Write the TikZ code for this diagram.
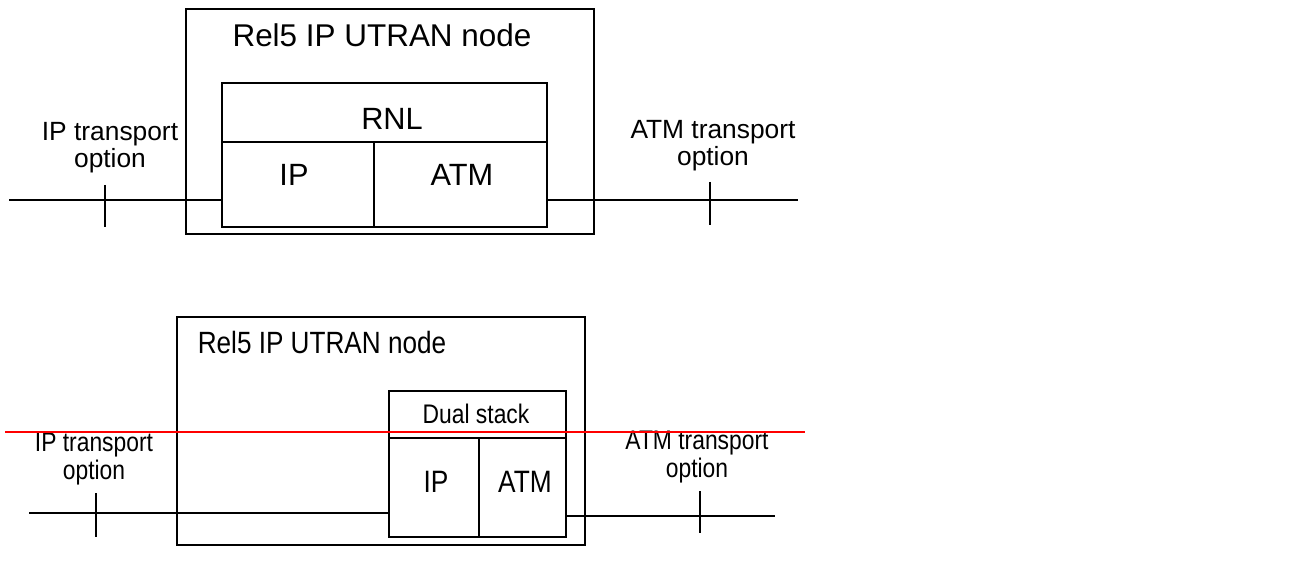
\documentclass[tikz,border=0pt]{standalone}
\usepackage{fontspec}
\setmainfont{Liberation Sans}
\newfontfamily\narrowfont[FakeStretch=0.85]{Liberation Sans}
\usetikzlibrary{positioning}

\begin{document}
\begin{tikzpicture}[
    x=0.02cm, y=-0.02cm,
    box/.style={draw, line width=1.25pt, inner sep=0pt},
    wire/.style={line width=1.25pt},
    nbox/.style={draw, line width=1.4pt, inner sep=0pt},
    nwire/.style={line width=1.4pt},
    title/.style={font=\fontsize{17.9}{20}\selectfont},
    lbl/.style={font=\fontsize{17.5}{20}\selectfont},
    annot/.style={font=\fontsize{15}{15.3}\selectfont, align=center, inner sep=0pt},
    ntitle/.style={font=\narrowfont\fontsize{17.5}{20}\selectfont},
    nlbl/.style={font=\narrowfont\fontsize{17.6}{20}\selectfont},
    nannot/.style={font=\narrowfont\fontsize{15.3}{16}\selectfont, align=center, inner sep=0pt},
]
\useasboundingbox (0,0) rectangle (1308,567);

% upper node: RNL over IP / ATM
\node[box, minimum width=8.16cm, minimum height=4.5cm] (nodeA) at (390,121.5) {};
\node[title] (titleA) at (382,35) {Rel5 IP UTRAN node};
\node[box, minimum width=6.5cm, minimum height=1.18cm] (rnl) at (384.5,112.5) {};
\node[lbl] (rnlT) at (392,119) {RNL};
\node[box, minimum width=3.04cm, minimum height=1.7cm] (ipA) at (298,184.5) {};
\node[box, minimum width=3.46cm, minimum height=1.7cm] (atmA) at (460.5,184.5) {};
\node[lbl] (ipAT) at (294,175) {IP};
\node[lbl] (atmAT) at (462,175) {ATM};

\node[annot] (ipOptA) at (110,148) {IP transport\\option};
\node[annot] (atmOptA) at (713,146) {ATM transport\\option};

\coordinate (wireAL) at (9,200);
\coordinate (wireAR) at (798,200);
\draw[wire] (wireAL) -- (wireAL -| ipA.west);
\draw[wire] (wireAR -| atmA.east) -- (wireAR);
\coordinate (tickAL1) at (105,185);
\coordinate (tickAL2) at (105,227);
\coordinate (tickAR1) at (710,182);
\coordinate (tickAR2) at (710,225);
\draw[wire] (tickAL1) -- (tickAL2);
\draw[wire] (tickAR1) -- (tickAR2);

% lower node: dual stack
\node[nbox, minimum width=8.16cm, minimum height=4.56cm] (nodeB) at (381,431) {};
\node[ntitle] (titleB) at (322,343) {Rel5 IP UTRAN node};
\node[nbox, minimum width=3.54cm, minimum height=0.94cm] (dual) at (477.5,414.5) {};
\node[nannot] (dualT) at (476,414) {Dual stack};
\node[nbox, minimum width=1.8cm, minimum height=1.98cm] (ipB) at (434,487.5) {};
\node[nbox, minimum width=1.74cm, minimum height=1.98cm] (atmB) at (522.5,487.5) {};
\node[nlbl] (ipBT) at (436,482) {IP};
\node[nlbl] (atmBT) at (525,482) {ATM};

\node[nannot] (ipOptB) at (94,459) {IP transport\\option};
\node[nannot] (atmOptB) at (697,457) {ATM transport\\option};

\coordinate (wireBL) at (29,513);
\coordinate (wireBR) at (775,516);
\draw[nwire] (wireBL) -- (wireBL -| ipB.west);
\draw[nwire] (wireBR -| atmB.east) -- (wireBR);
\coordinate (tickBL1) at (96,493);
\coordinate (tickBL2) at (96,537);
\coordinate (tickBR1) at (700,491);
\coordinate (tickBR2) at (700,533);
\draw[nwire] (tickBL1) -- (tickBL2);
\draw[nwire] (tickBR1) -- (tickBR2);

\coordinate (redL) at (5,432);
\coordinate (redR) at (805,432);
\draw[red, line width=0.6pt] (redL) -- (redR);

\end{tikzpicture}
\end{document}
